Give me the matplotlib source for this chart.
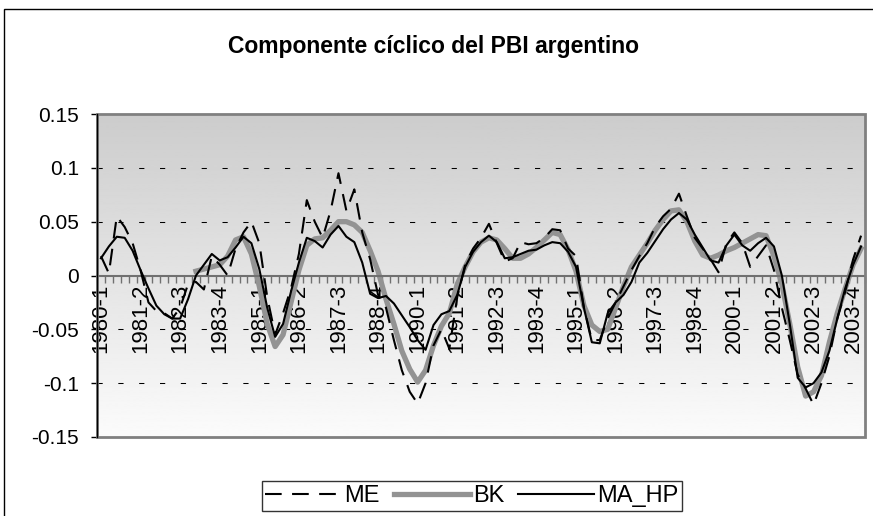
import numpy as np
import matplotlib
matplotlib.use("Agg")
import matplotlib.pyplot as plt
from matplotlib.patches import Rectangle
from matplotlib.ticker import FixedLocator, NullFormatter

plt.rcParams['font.family'] = ['Liberation Sans', 'DejaVu Sans']

# quarterly categories 1980-1 .. 2004-1
quarters = [f"{1980 + k // 4}-{k % 4 + 1}" for k in range(97)]

me = [0.018, 0.002, 0.055, 0.045, 0.030, 0.005, -0.025, -0.033, -0.035, -0.040,
      -0.030, -0.008, -0.006, -0.013, 0.018, 0.010, 0.000, 0.025, 0.040, 0.050,
      0.030, -0.020, -0.055, -0.035, -0.012, 0.020, 0.070, 0.050, 0.035, 0.060,
      0.095, 0.060, 0.080, 0.040, 0.015, -0.018, -0.030, -0.060, -0.088, -0.108,
      -0.119, -0.100, -0.065, -0.050, -0.068, -0.020, 0.010, 0.025, 0.035, 0.048,
      0.030, 0.013, 0.016, 0.031, 0.029, 0.030, 0.035, 0.043, 0.042, 0.025,
      0.018, -0.030, -0.060, -0.060, -0.040, -0.025, -0.010, 0.005, 0.018, 0.030,
      0.045, 0.055, 0.062, 0.076, 0.055, 0.035, 0.025, 0.015, 0.003, 0.030,
      0.040, 0.030, 0.008, 0.018, 0.028, 0.005, -0.030, -0.060, -0.092, -0.105,
      -0.120, -0.100, -0.075, -0.040, -0.015, 0.015, 0.037]

bk = [np.nan] * 12 + [
      0.004, 0.006, 0.008, 0.010, 0.018, 0.033, 0.036, 0.020,
      -0.010, -0.045, -0.066, -0.055, -0.025, 0.005, 0.028, 0.034, 0.035, 0.042,
      0.050, 0.050, 0.047, 0.040, 0.023, 0.004, -0.022, -0.045, -0.070, -0.087,
      -0.099, -0.088, -0.065, -0.047, -0.035, -0.008, 0.008, 0.022, 0.031, 0.035,
      0.033, 0.025, 0.016, 0.016, 0.020, 0.026, 0.033, 0.040, 0.038, 0.024,
      0.004, -0.028, -0.046, -0.052, -0.050, -0.030, -0.010, 0.008, 0.019, 0.030,
      0.042, 0.052, 0.060, 0.061, 0.050, 0.032, 0.019, 0.016, 0.019, 0.023,
      0.026, 0.030, 0.034, 0.038, 0.037, 0.018, -0.008, -0.045, -0.085, -0.112,
      -0.108, -0.093, -0.062, -0.035, -0.012, 0.010, 0.025]

ma_hp = [0.016, 0.027, 0.036, 0.035, 0.023, 0.005, -0.012, -0.028, -0.036, -0.040,
         -0.040, -0.022, 0.000, 0.010, 0.020, 0.014, 0.017, 0.026, 0.036, 0.030,
         0.006, -0.030, -0.057, -0.045, -0.015, 0.012, 0.035, 0.032, 0.026, 0.038,
         0.046, 0.036, 0.031, 0.012, -0.017, -0.021, -0.019, -0.026, -0.037, -0.048,
         -0.060, -0.069, -0.046, -0.036, -0.033, -0.018, 0.008, 0.022, 0.031, 0.037,
         0.031, 0.016, 0.017, 0.020, 0.023, 0.024, 0.028, 0.031, 0.030, 0.022,
         0.008, -0.030, -0.062, -0.063, -0.035, -0.025, -0.018, -0.006, 0.012, 0.021,
         0.032, 0.043, 0.052, 0.058, 0.052, 0.038, 0.026, 0.014, 0.012, 0.028,
         0.038, 0.028, 0.023, 0.030, 0.035, 0.027, 0.000, -0.045, -0.095, -0.104,
         -0.100, -0.090, -0.070, -0.040, -0.012, 0.010, 0.027]

y_ticks = [-0.15, -0.1, -0.05, 0, 0.05, 0.1, 0.15]
y_labels = ["-0.15", "-0.1", "-0.05", "0", "0.05", "0.1", "0.15"]
grid_levels = [-0.1, -0.05, 0.05, 0.1]

W, H = 873, 516
fig = plt.figure(figsize=(W / 100, H / 100), dpi=100)
ax = fig.add_axes([97 / W, 1 - 437 / H, (865 - 97) / W, (437 - 114) / H])

x = np.arange(len(quarters))

# gradient background of the plot area (grey at the top, white at the bottom)
grad = np.linspace(0.80, 0.985, 256).reshape(-1, 1)
ax.imshow(grad, cmap='gray', vmin=0, vmax=1, aspect='auto',
          extent=[0, 1, 0, 1], transform=ax.transAxes, zorder=0)

for g in grid_levels:
    ax.axhline(g, color='black', lw=0.75, ls=(0, (5, 15)), zorder=1)

l_bk, = ax.plot(x, bk, color='#939393', lw=3.8, zorder=2, label='BK')
l_me, = ax.plot(x, me, color='black', lw=1.5, ls=(0, (8, 5)), zorder=3, label='ME')
l_ma, = ax.plot(x, ma_hp, color='black', lw=1.5, zorder=4, label='MA_HP')

ax.set_xlim(-0.5, len(quarters) - 0.5)
ax.set_ylim(-0.15, 0.15)

# plot area frame
ax.add_patch(Rectangle((0, 0), 1, 1, transform=ax.transAxes, fill=False,
                       edgecolor='#808080', lw=2, zorder=5, clip_on=False))

for s in ['top', 'right']:
    ax.spines[s].set_visible(False)
ax.spines['left'].set_color('black')
ax.spines['left'].set_linewidth(1)
ax.spines['left'].set_zorder(6)
ax.spines['bottom'].set_position(('data', 0))
ax.spines['bottom'].set_color('#707070')
ax.spines['bottom'].set_linewidth(1.5)

ax.set_yticks(y_ticks)
ax.set_yticklabels(y_labels, fontsize=15)
ax.tick_params(axis='y', direction='out', length=4, width=1, pad=9)

label_pos = list(range(0, len(quarters), 5))
ax.set_xticks(label_pos)
ax.set_xticklabels([quarters[k] for k in label_pos], rotation=90, fontsize=16)
ax.tick_params(axis='x', which='major', length=0, pad=6)
ax.xaxis.set_minor_locator(FixedLocator(np.arange(-0.5, len(quarters), 1)))
ax.xaxis.set_minor_formatter(NullFormatter())
ax.tick_params(axis='x', which='minor', direction='out', length=5, width=1,
               color='#707070')

fig.text(434 / W, 1 - 46 / H, 'Componente cíclico del PBI argentino',
         ha='center', va='center', fontsize=16.5, fontweight='bold')

leg = fig.legend(handles=[l_me, l_bk, l_ma], loc='center',
                 bbox_to_anchor=(472 / W, 1 - 496 / H), ncol=3, fontsize=17,
                 frameon=True, fancybox=False, edgecolor='black',
                 handlelength=3.2, handletextpad=0.15, columnspacing=0.6,
                 borderpad=0.15, borderaxespad=0)
leg.get_frame().set_linewidth(1)

# outer chart border
fig.patches.append(Rectangle((4 / W, -0.1), 1.2, 1.1 - 9 / H,
                             transform=fig.transFigure, fill=False,
                             edgecolor='black', lw=1))

fig.savefig('out.png', dpi=100)
